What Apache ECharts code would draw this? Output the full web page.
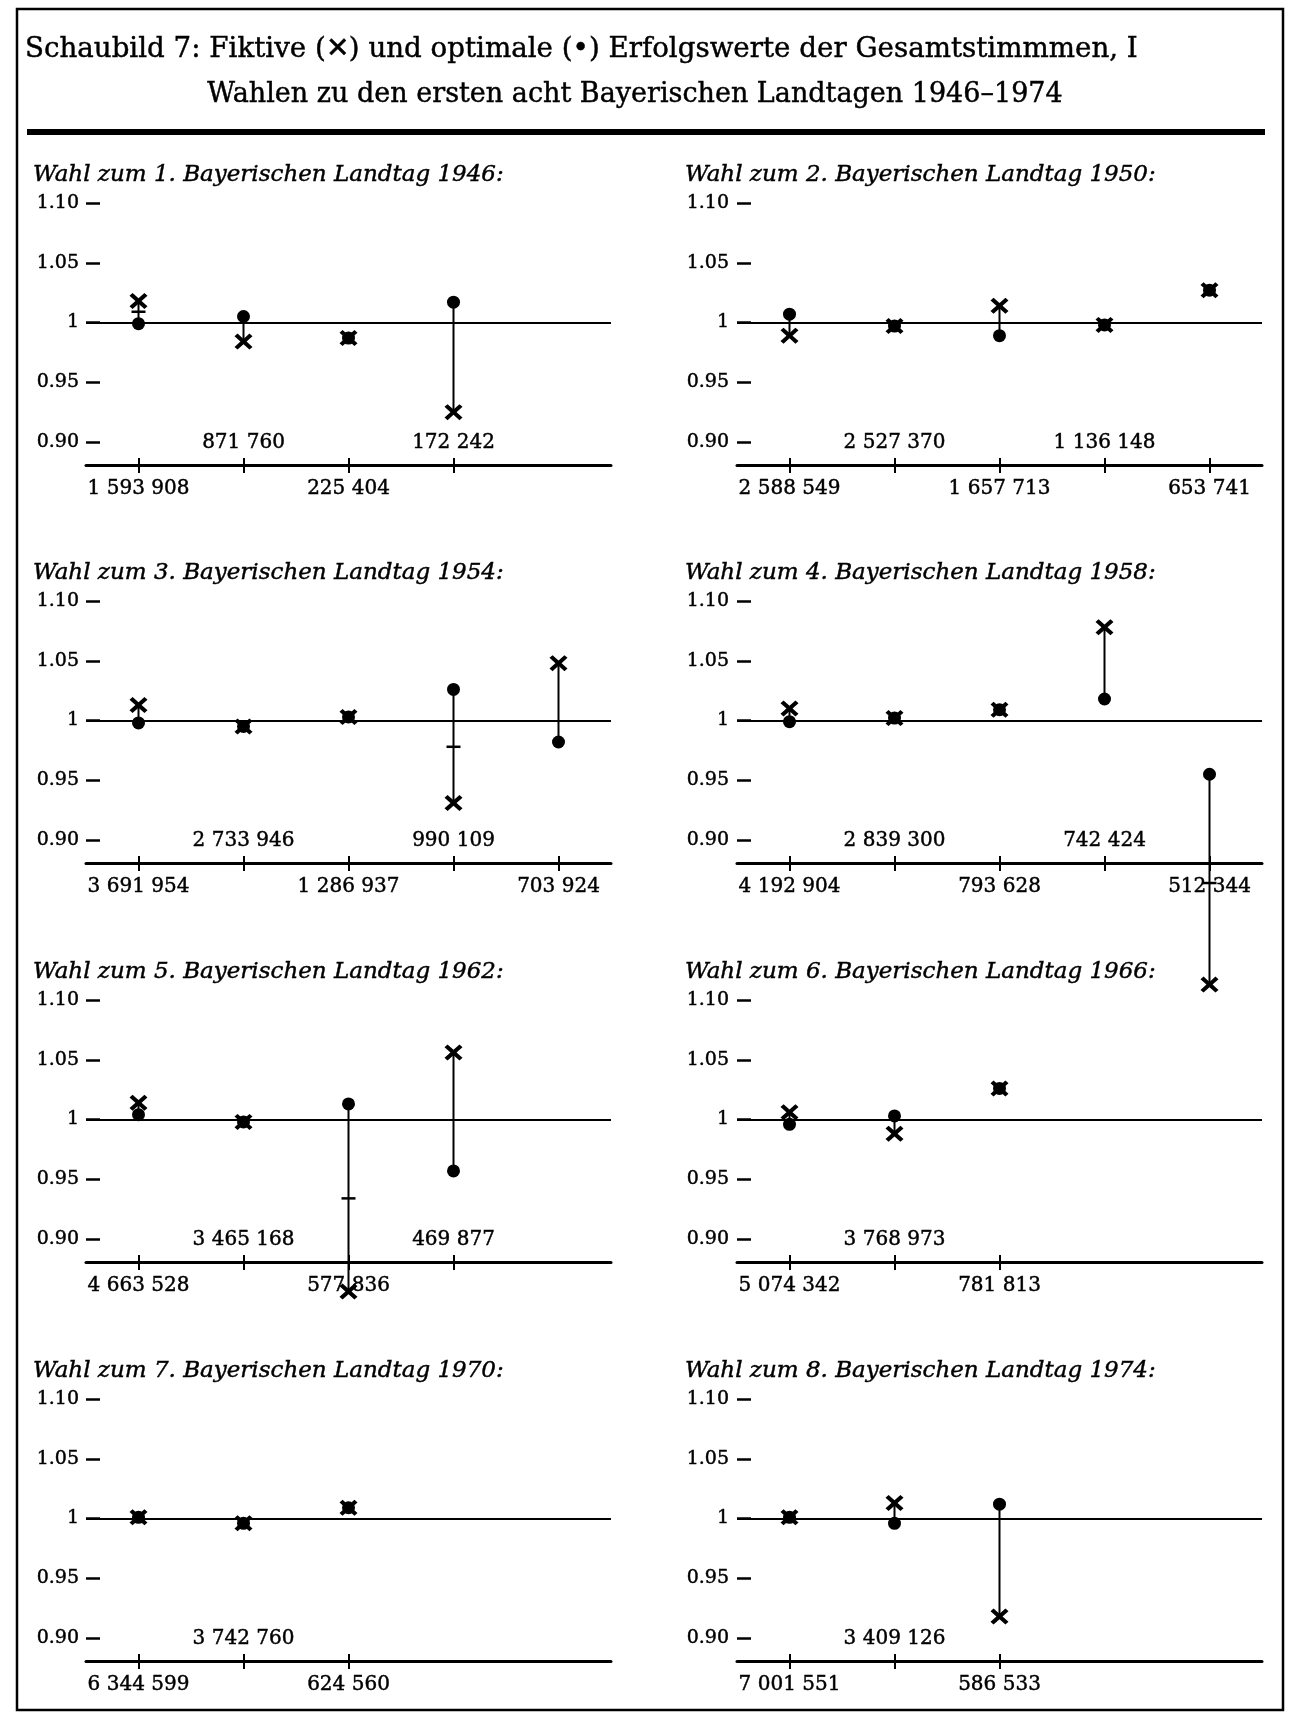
<!DOCTYPE html>
<html>
<head>
<meta charset="utf-8">
<script src="https://cdn.jsdelivr.net/npm/echarts@6/dist/echarts.min.js"></script>
<style>
  html, body { margin: 0; padding: 0; background: #ffffff; }
  #chart { width: 1300px; height: 1731px; }
</style>
</head>
<body>
<div id="chart"></div>
<script>
// ---------- data ----------
const yTickLabels = ['0.90', '0.95', '1', '1.05', '1.10'];

const panelTitles = [
  'Wahl zum 1. Bayerischen Landtag 1946:',
  'Wahl zum 2. Bayerischen Landtag 1950:',
  'Wahl zum 3. Bayerischen Landtag 1954:',
  'Wahl zum 4. Bayerischen Landtag 1958:',
  'Wahl zum 5. Bayerischen Landtag 1962:',
  'Wahl zum 6. Bayerischen Landtag 1966:',
  'Wahl zum 7. Bayerischen Landtag 1970:',
  'Wahl zum 8. Bayerischen Landtag 1974:'
];

// categories: party vote totals (Gesamtstimmen)
const stimmen1946 = ['1 593 908', '871 760', '225 404', '172 242'];
const stimmen1950 = ['2 588 549', '2 527 370', '1 657 713', '1 136 148', '653 741'];
const stimmen1954 = ['3 691 954', '2 733 946', '1 286 937', '990 109', '703 924'];
const stimmen1958 = ['4 192 904', '2 839 300', '793 628', '742 424', '512 344'];
const stimmen1962 = ['4 663 528', '3 465 168', '577 836', '469 877'];
const stimmen1966 = ['5 074 342', '3 768 973', '781 813'];
const stimmen1970 = ['6 344 599', '3 742 760', '624 560'];
const stimmen1974 = ['7 001 551', '3 409 126', '586 533'];

// fiktive Erfolgswerte (x)
const fiktiv1946 = [1.018, 0.984, 0.987, 0.925];
const fiktiv1950 = [0.989, 0.997, 1.014, 0.998, 1.027];
const fiktiv1954 = [1.013, 0.995, 1.003, 0.931, 1.048];
const fiktiv1958 = [1.010, 1.002, 1.009, 1.078, 0.779];
const fiktiv1962 = [1.014, 0.998, 0.856, 1.056];
const fiktiv1966 = [1.006, 0.988, 1.026];
const fiktiv1970 = [1.001, 0.996, 1.009];
const fiktiv1974 = [1.001, 1.013, 0.918];

// optimale Erfolgswerte (dot)
const optimal1946 = [0.999, 1.005, 0.987, 1.017];
const optimal1950 = [1.007, 0.997, 0.989, 0.998, 1.027];
const optimal1954 = [0.998, 0.995, 1.003, 1.026, 0.982];
const optimal1958 = [0.999, 1.002, 1.009, 1.018, 0.955];
const optimal1962 = [1.004, 0.998, 1.013, 0.957];
const optimal1966 = [0.996, 1.003, 1.026];
const optimal1970 = [1.001, 0.996, 1.009];
const optimal1974 = [1.001, 0.996, 1.012];

// small cross-bars on connecting lines
const marke1946 = [1.009, null, null, null];
const marke1950 = [null, null, null, null, null];
const marke1954 = [null, null, null, 0.978, null];
const marke1958 = [null, null, null, null, 0.864];
const marke1962 = [null, null, 0.934, null];
const marke1966 = [null, null, null];
const marke1970 = [null, null, null];
const marke1974 = [null, null, null];

const panels = [
  { cats: stimmen1946, fic: fiktiv1946, opt: optimal1946, mark: marke1946 },
  { cats: stimmen1950, fic: fiktiv1950, opt: optimal1950, mark: marke1950 },
  { cats: stimmen1954, fic: fiktiv1954, opt: optimal1954, mark: marke1954 },
  { cats: stimmen1958, fic: fiktiv1958, opt: optimal1958, mark: marke1958 },
  { cats: stimmen1962, fic: fiktiv1962, opt: optimal1962, mark: marke1962 },
  { cats: stimmen1966, fic: fiktiv1966, opt: optimal1966, mark: marke1966 },
  { cats: stimmen1970, fic: fiktiv1970, opt: optimal1970, mark: marke1970 },
  { cats: stimmen1974, fic: fiktiv1974, opt: optimal1974, mark: marke1974 }
];

// ---------- layout ----------
const FONT = '"DejaVu Serif", "Liberation Serif", serif';
const rowTops = [203, 601, 1000, 1399];
const colLefts = [86, 737];
const GRID_W = 525, GRID_H = 239;
const SLOTS = 5;
const X_SYMBOL = 'path://M0,1.7 L1.7,0 L5,3.3 L8.3,0 L10,1.7 L6.7,5 L10,8.3 L8.3,10 L5,6.7 L1.7,10 L0,8.3 L3.3,5 Z';
const TXT_STROKE = 0.45;

const grids = [], xAxes = [], yAxes = [], series = [], graphics = [];

panels.forEach((p, i) => {
  const row = Math.floor(i / 2), col = i % 2;
  const cats = p.cats.slice();
  while (cats.length < SLOTS) cats.push('');

  grids.push({ left: colLefts[col], top: rowTops[row], width: GRID_W, height: GRID_H });

  const tickInterval = (idx, val) => val !== '';
  const lblStyle = { color: '#000', fontFamily: FONT, fontSize: 20,
                     textBorderColor: '#000', textBorderWidth: TXT_STROKE };
  // axis with line, downward ticks, labels below (positions 1,3,5)
  xAxes.push({
    gridIndex: i, type: 'category', data: cats, position: 'bottom', offset: 23,
    boundaryGap: true,
    axisLine: { show: true, lineStyle: { color: '#000', width: 3 } },
    axisTick: { show: true, alignWithLabel: true, interval: tickInterval, length: 8,
                lineStyle: { color: '#000', width: 2 } },
    axisLabel: Object.assign({ interval: 0, margin: 14,
                 formatter: (v, idx) => (idx % 2 === 0 ? v : '') }, lblStyle),
    splitLine: { show: false }
  });
  // companion axis: upward ticks and labels above (positions 2,4)
  xAxes.push({
    gridIndex: i, type: 'category', data: cats, position: 'bottom', offset: 23,
    boundaryGap: true,
    axisLine: { show: false },
    axisTick: { show: true, inside: true, alignWithLabel: true, interval: tickInterval, length: 7,
                lineStyle: { color: '#000', width: 2 } },
    axisLabel: Object.assign({ interval: 0, inside: true, margin: 12,
                 formatter: (v, idx) => (idx % 2 === 1 ? v : '') }, lblStyle),
    splitLine: { show: false }
  });

  yAxes.push({
    gridIndex: i, type: 'value', min: 0.9, max: 1.1, interval: 0.05,
    axisLine: { show: false },
    axisTick: { show: true, inside: true, length: 14, lineStyle: { color: '#000', width: 2.5 } },
    splitLine: { show: false },
    axisLabel: { margin: col === 0 ? 7 : 8, color: '#000', fontFamily: FONT, fontSize: 19,
                 textBorderColor: '#000', textBorderWidth: TXT_STROKE,
                 formatter: v => yTickLabels[Math.round((v - 0.9) / 0.05)] }
  });

  // connectors between optimal and fictive values
  series.push({
    type: 'custom', xAxisIndex: 2 * i, yAxisIndex: i, clip: false, z: 2, silent: true,
    encode: { x: 0, y: [1, 2] },
    data: p.opt.map((v, j) => [j, v, p.fic[j]]),
    renderItem: (params, api) => {
      const j = api.value(0);
      const a = api.coord([j, api.value(1)]);
      const b = api.coord([j, api.value(2)]);
      const children = [{
        type: 'line',
        shape: { x1: a[0], y1: a[1], x2: b[0], y2: b[1] },
        style: { stroke: '#000', lineWidth: 2 }
      }];
      const m = p.mark[params.dataIndex];
      if (m != null) {
        const c = api.coord([j, m]);
        children.push({
          type: 'line',
          shape: { x1: c[0] - 7, y1: c[1], x2: c[0] + 7, y2: c[1] },
          style: { stroke: '#000', lineWidth: 2.5 }
        });
      }
      return { type: 'group', children };
    }
  });

  // optimal values (dots) + reference line at 1
  series.push({
    type: 'scatter', xAxisIndex: 2 * i, yAxisIndex: i, clip: false, z: 3, silent: true,
    symbol: 'circle', symbolSize: [13, 13],
    itemStyle: { color: '#000', opacity: 1 },
    data: p.opt.map((v, j) => [j, v]),
    markLine: {
      silent: true, symbol: 'none', label: { show: false },
      lineStyle: { color: '#000', width: 2, type: 'solid', opacity: 1 },
      data: [{ yAxis: 1 }]
    }
  });

  // fictive values (crosses)
  series.push({
    type: 'scatter', xAxisIndex: 2 * i, yAxisIndex: i, clip: false, z: 4, silent: true,
    symbol: X_SYMBOL, symbolSize: [18, 16],
    itemStyle: { color: '#000', opacity: 1 },
    data: p.fic.map((v, j) => [j, v])
  });

  // panel title
  graphics.push({
    type: 'text', silent: true,
    style: {
      text: panelTitles[i], x: col === 0 ? 33 : 685, y: rowTops[row] - 28,
      fill: '#000', stroke: '#000', lineWidth: TXT_STROKE,
      font: 'italic 23px ' + FONT, textAlign: 'left', textVerticalAlign: 'middle'
    }
  });
});

// frame, header and rule
graphics.push(
  { type: 'rect', silent: true, shape: { x: 17, y: 9, width: 1266, height: 1701 },
    style: { fill: 'none', stroke: '#000', lineWidth: 2.5 } },
  { type: 'text', silent: true,
    style: { text: 'Schaubild 7: Fiktive (\u2715) und optimale (\u2022) Erfolgswerte der Gesamtstimmmen, I',
             x: 25, y: 50, fill: '#000', stroke: '#000', lineWidth: TXT_STROKE,
             font: '27.7px ' + FONT, textAlign: 'left', textVerticalAlign: 'middle' } },
  { type: 'text', silent: true,
    style: { text: 'Wahlen zu den ersten acht Bayerischen Landtagen 1946\u20131974',
             x: 635, y: 95, fill: '#000', stroke: '#000', lineWidth: TXT_STROKE,
             font: '27px ' + FONT, textAlign: 'center', textVerticalAlign: 'middle' } },
  { type: 'rect', silent: true, shape: { x: 27, y: 129, width: 1238, height: 6 },
    style: { fill: '#000' } }
);

const chart = echarts.init(document.getElementById('chart'), null, { renderer: 'canvas' });
chart.setOption({
  backgroundColor: '#ffffff',
  animation: false,
  grid: grids,
  xAxis: xAxes,
  yAxis: yAxes,
  series: series,
  graphic: graphics
});
</script>
</body>
</html>
